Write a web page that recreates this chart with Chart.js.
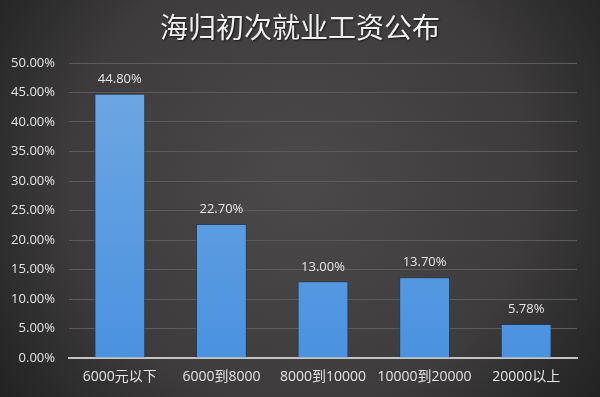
<!DOCTYPE html>
<html>
<head>
<meta charset="utf-8">
<script src="https://cdn.jsdelivr.net/npm/chart.js@4/dist/chart.umd.min.js"></script>
<style>
  html, body { margin: 0; padding: 0; background: #333; }
  #wrap { width: 600px; height: 397px; }
</style>
</head>
<body>
<div id="wrap"><canvas id="salaryChart" width="600" height="397"></canvas></div>
<script>
// data
var categories = ['6000元以下', '6000到8000', '8000到10000', '10000到20000', '20000以上'];
var shares = [44.80, 22.70, 13.00, 13.70, 5.78];
var valueLabels = ['44.80%', '22.70%', '13.00%', '13.70%', '5.78%'];
var titleText = '海归初次就业工资公布';

var FONT = '"Open Sans", "Noto Sans CJK SC", sans-serif';

// dark vignette background
var bgPlugin = {
  id: 'bg',
  beforeDraw: function (chart) {
    var ctx = chart.ctx, w = chart.width, h = chart.height;
    ctx.save();
    var g = ctx.createRadialGradient(w * 0.5, h * 0.45, 20, w * 0.5, h * 0.45, w * 0.62);
    g.addColorStop(0, '#4a4848');
    g.addColorStop(0.6, '#3d3b3b');
    g.addColorStop(1, '#222222');
    ctx.fillStyle = g;
    ctx.fillRect(0, 0, w, h);
    ctx.restore();
  }
};

// big title across the top
var titlePlugin = {
  id: 'titleText',
  afterDraw: function (chart) {
    var ctx = chart.ctx;
    ctx.save();
    ctx.font = '28px "Noto Sans CJK SC", sans-serif';
    ctx.fillStyle = '#f0f0f0';
    ctx.textAlign = 'center';
    ctx.textBaseline = 'middle';
    ctx.shadowColor = 'rgba(0,0,0,0.7)';
    ctx.shadowOffsetX = 1;
    ctx.shadowOffsetY = 1;
    ctx.shadowBlur = 2;
    ctx.fillText(titleText, 300, 27);
    ctx.restore();
  }
};

// percent label above each bar
var valuePlugin = {
  id: 'values',
  afterDatasetsDraw: function (chart) {
    var ctx = chart.ctx;
    var meta = chart.getDatasetMeta(0);
    ctx.save();
    ctx.font = '13px ' + FONT;
    ctx.fillStyle = '#e6e6e6';
    ctx.textAlign = 'center';
    ctx.textBaseline = 'bottom';
    meta.data.forEach(function (bar, i) {
      ctx.fillText(valueLabels[i], bar.x, bar.y - 8);
    });
    ctx.restore();
  }
};

var canvas = document.getElementById('salaryChart');
var ctx = canvas.getContext('2d');
var barFill = ctx.createLinearGradient(0, 63, 0, 358);
barFill.addColorStop(0, '#70a8e2');
barFill.addColorStop(1, '#4a92e0');

new Chart(ctx, {
  type: 'bar',
  data: {
    labels: categories,
    datasets: [{
      data: shares,
      backgroundColor: barFill,
      borderColor: 'rgba(30,60,100,0.7)',
      borderWidth: 1,
      categoryPercentage: 1,
      barPercentage: 0.5
    }]
  },
  options: {
    responsive: false,
    animation: false,
    layout: { padding: { left: 8, right: 23, top: 63, bottom: 0 } },
    plugins: {
      legend: { display: false },
      tooltip: { enabled: false },
      title: { display: false }
    },
    scales: {
      x: {
        afterFit: function (axis) { axis.height = 39; },
        grid: { display: false, drawTicks: false },
        border: { display: true, color: '#c4c4c4', width: 2 },
        ticks: { color: '#e6e6e6', font: { family: FONT, size: 14 }, padding: 11 }
      },
      y: {
        min: 0,
        max: 50,
        afterFit: function (axis) { axis.width = 61; },
        ticks: {
          stepSize: 5,
          color: '#e6e6e6',
          font: { family: FONT, size: 13 },
          padding: 14,
          callback: function (v) { return v.toFixed(2) + '%'; }
        },
        grid: { color: '#5c5c5c', lineWidth: 1, drawTicks: false },
        border: { display: false }
      }
    }
  },
  plugins: [bgPlugin, valuePlugin, titlePlugin]
});
</script>
</body>
</html>
